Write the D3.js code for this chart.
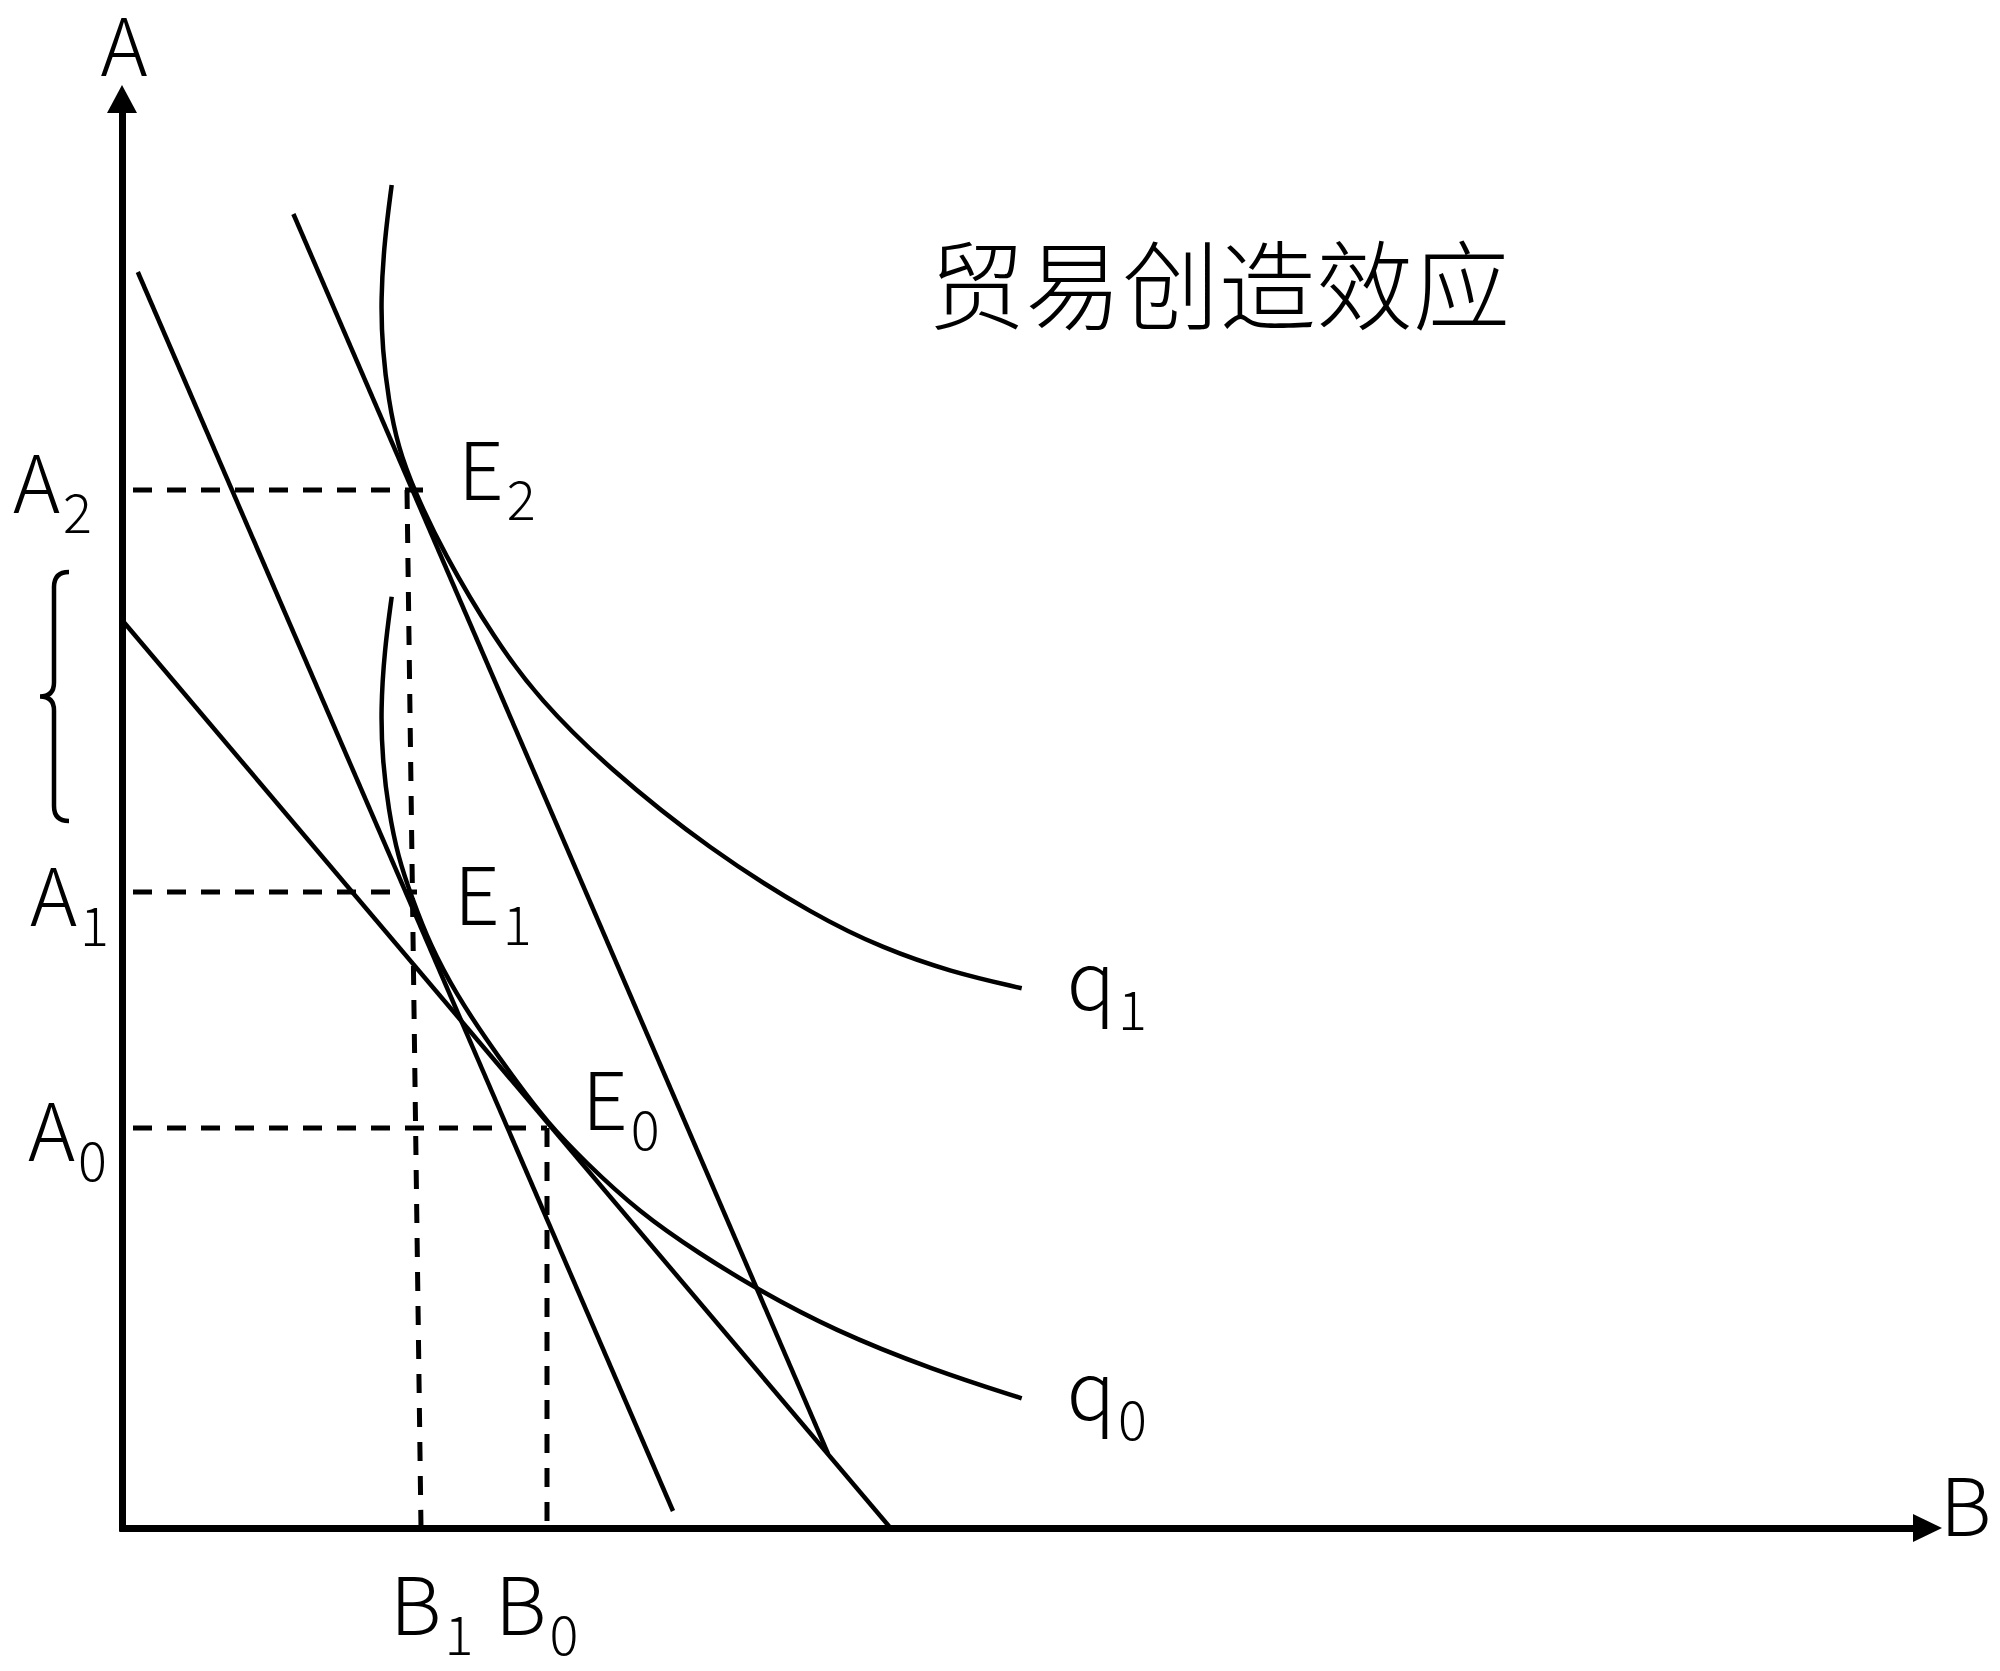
<!DOCTYPE html>
<html>
<head>
<meta charset="utf-8">
<script src="https://cdn.jsdelivr.net/npm/d3@7"></script>
<style>
  body { margin: 0; background: #fff; }
  svg text { font-family: "Noto Sans CJK SC", "Noto Sans", sans-serif; font-weight: 300; fill: #000; }
  .title { font-size: 97px; }
  .lbl { font-size: 80px; }
  .sub { font-size: 54px; }
  .mark { fill: none; stroke: #000; stroke-width: 4.5; }
  .guide { fill: none; stroke: #000; stroke-width: 5; stroke-dasharray: 19 15; }
  .axis path.domain { stroke: #000; stroke-width: 7; }
</style>
</head>
<body>
<svg id="chart" width="2000" height="1671"></svg>
<script>
// isoquants as (B, A)
const q1Points = [
  [26.97, 134.3], [26.25, 128.8], [25.87, 122.8], [26.05, 117.8], [26.65, 112.8],
  [27.6, 108.1], [29.2, 103.8], [32.1, 97.6], [37.3, 88.8], [41.8, 82.8],
  [48.47, 76.13], [58.8, 67.8], [69.47, 61.13], [76.13, 57.97], [82.8, 55.63],
  [89.97, 53.97]
];
const q0Points = [
  [26.97, 93.13], [26.25, 87.8], [25.87, 81.8], [26.05, 76.8], [26.65, 71.8],
  [27.6, 67.1], [29.0, 63.0], [30.8, 58.3], [33.47, 53.3], [36.47, 48.8],
  [39.47, 44.6], [42.5, 40.6], [46.1, 36.8], [51.8, 31.5], [57.8, 27.4],
  [63.47, 23.9], [71.13, 19.8], [81.13, 15.8], [89.97, 12.97]
];

// price lines
const lineTariff = [[0, 90.8], [76.85, 0]];
const lineUnion = [[1.58, 125.6], [55.1, 1.7]];
const lineUnionHigh = [[17.14, 131.4], [70.6, 7.44]];

// equilibrium levels
const eqNames = ['0', '1', '2'];
const eqA = [40.0, 63.6, 103.8];
const eqB = [42.5, 29.5, 30.1];     // where the A guides stop
const bNames = ['0', '1'];
const bLevels = [42.5, 29.9];
const bTops = [40.0, 103.8];
const bTopX = [42.5, 28.5];
const braceSpan = [70.7, 95.6];

const svg = d3.select('#chart');
const x = d3.scaleLinear().domain([0, 182]).range([122, 1942]);
const y = d3.scaleLinear().domain([0, 144.3]).range([1528, 85]);

const line = d3.line().x(d => x(d[0])).y(d => y(d[1]));
const smooth = d3.line().x(d => x(d[0])).y(d => y(d[1])).curve(d3.curveBasis);

// axes
svg.append('g').attr('class', 'axis')
  .attr('transform', `translate(0,${y(0)})`)
  .call(d3.axisBottom(x.copy().range([x(0) - 3, 1914])).tickValues([]).tickSizeOuter(0));
svg.append('g').attr('class', 'axis')
  .attr('transform', `translate(${x(0)},0)`)
  .call(d3.axisLeft(y.copy().range([y(0) + 3, 112])).tickValues([]).tickSizeOuter(0));
svg.selectAll('.axis text').remove();

svg.append('path')
  .attr('d', `M${x(182)},${y(0)} L${x(182) - 29},${y(0) - 14} L${x(182) - 29},${y(0) + 14}Z`);
svg.append('path')
  .attr('d', `M${x(0)},${y(144.3)} L${x(0) - 15},${y(144.3) + 28} L${x(0) + 15},${y(144.3) + 28}Z`);

svg.append('text').attr('class', 'lbl').attr('x', x(0) + 2).attr('y', 76)
  .attr('text-anchor', 'middle').text('A');
svg.append('text').attr('class', 'lbl').attr('x', 1940).attr('y', 1536).text('B');

// guides
eqA.forEach((a, i) => {
  svg.append('path').attr('class', 'guide').attr('d', line([[1.1, a], [eqB[i], a]]));
});
bLevels.forEach((b, i) => {
  svg.append('path').attr('class', 'guide').attr('d', line([[bTopX[i], bTops[i]], [b, 0]]));
});

// price lines and isoquants
[lineTariff, lineUnion, lineUnionHigh].forEach(d => {
  svg.append('path').attr('class', 'mark').attr('d', line(d));
});
[q0Points, q1Points].forEach(d => {
  svg.append('path').attr('class', 'mark').attr('d', smooth(d));
});

function label(px, py, main, sub, anchor) {
  const t = svg.append('text').attr('class', 'lbl')
    .attr('x', px).attr('y', py).attr('text-anchor', anchor || 'start');
  t.append('tspan').text(main);
  t.append('tspan').attr('class', 'sub').attr('dx', 3).attr('dy', 20).text(sub);
  return t;
}

// A levels
const aRight = [107, 109, 92];
const aDy = [33, 34, 23];
eqA.forEach((a, i) => label(aRight[i], y(a) + aDy[i], 'A', eqNames[i], 'end'));

// equilibrium labels
const eqPts = [[42.5, 40.0], [29.1, 63.6], [29.3, 103.8]];
const eqDx = [35, 41, 43];
const eqDy = [2, 33, 10];
eqPts.forEach((p, i) => label(x(p[0]) + eqDx[i], y(p[1]) + eqDy[i], 'E', eqNames[i]));

// B levels
const bDx = [-52, -31];
bLevels.forEach((b, i) => label(x(b) + bDx[i], 1635, 'B', bNames[i]));

// isoquant labels
[[q0Points, '0'], [q1Points, '1']].forEach(([pts, s]) => {
  const end = pts[pts.length - 1];
  label(x(end[0]) + 45, y(end[1]) + 22, 'q', s);
});

// brace
const bx = 54, braceTop = y(braceSpan[1]), braceBot = y(braceSpan[0]), braceMid = (braceTop + braceBot) / 2;
svg.append('path').attr('class', 'mark').attr('stroke-width', 6.5)
  .attr('d', `M69,${braceTop} Q${bx},${braceTop} ${bx},${braceTop + 15} L${bx},${braceMid - 14} Q${bx},${braceMid} 40,${braceMid}` +
    ` Q${bx},${braceMid} ${bx},${braceMid + 14} L${bx},${braceBot - 15} Q${bx},${braceBot} 69,${braceBot}`);

svg.append('text').attr('class', 'title').attr('x', 928).attr('y', 322).text('贸易创造效应');
</script>
</body>
</html>
